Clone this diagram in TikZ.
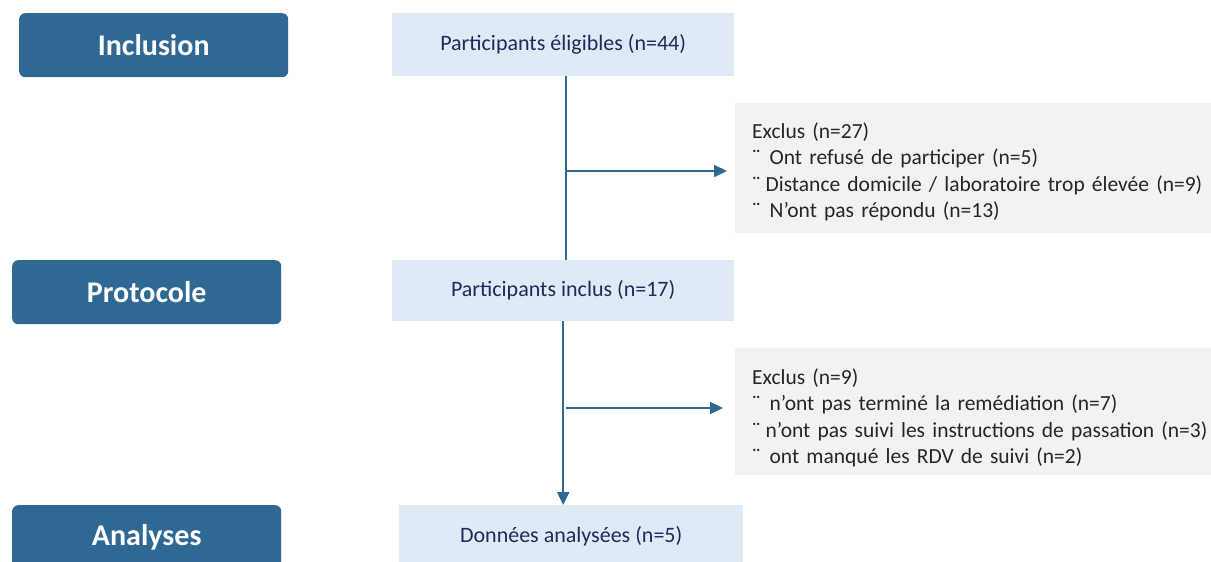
\documentclass[tikz,border=0pt]{standalone}
\usepackage{fontspec}
\setmainfont{Carlito}
\usetikzlibrary{arrows.meta}

\definecolor{phaseblue}{HTML}{2E6893}
\definecolor{stageblue}{HTML}{DEEAF6}
\definecolor{exclgray}{HTML}{F2F2F0}
\definecolor{navytext}{HTML}{1F2A5C}
\definecolor{graytext}{HTML}{262626}

\tikzset{
  phase/.style={fill=phaseblue, rounded corners=6pt, text=white, inner sep=0pt,
    minimum width=269pt, minimum height=64pt, font=\fontsize{30}{34}\selectfont\bfseries},
  stagebox/.style={fill=stageblue, text=navytext, inner sep=0pt,
    minimum width=342pt, minimum height=63pt, font=\fontsize{22}{26}\selectfont},
  exclbox/.style={fill=exclgray, text=graytext, inner xsep=17pt, inner ysep=0pt,
    text width=470pt, minimum height=130pt, align=left, font=\fontsize{21.5}{26.6}\selectfont},
  flow/.style={draw=phaseblue, line width=2pt, -{Triangle[length=13pt,width=12pt]}}
}

\begin{document}
\begin{tikzpicture}[x=1pt, y=-1pt, line join=round]
    \useasboundingbox (0,0) rectangle (1211,562);

    % colonne des phases
    \node[phase, anchor=north west] (inclusion) at (19,13) {Inclusion};
    \node[phase, anchor=north west] (protocole) at (12,260) {Protocole};
    \node[phase, anchor=north west] (analyses) at (12,505) {Analyses};

    % etapes du flux
    \node[stagebox, anchor=north west] (eligibles) at (392,13) {Participants éligibles (n=44)};
    \node[stagebox, anchor=north west, minimum height=61pt] (inclus) at (392,260) {Participants inclus (n=17)};
    \node[stagebox, anchor=north west, minimum width=344pt] (donnees) at (399,505) {Données analysées (n=5)};

    % exclusions (la boite depasse a droite, coupee par le cadre)
    \node[exclbox, anchor=north west] (exclus1) at (735,103)
      {\rule{0pt}{23pt}Exclus (n=27)\\
       ¨\hspace{9pt}Ont refusé de participer (n=5)\\
       ¨\hspace{5pt}Distance domicile / laboratoire trop élevée (n=9)\\
       ¨\hspace{9pt}N’ont pas répondu (n=13)};
    \node[exclbox, anchor=north west, minimum height=127pt] (exclus2) at (735,348)
      {\rule{0pt}{28pt}Exclus (n=9)\\
       ¨\hspace{9pt}n’ont pas terminé la remédiation (n=7)\\
       ¨\hspace{5pt}n’ont pas suivi les instructions de passation (n=3)\\
       ¨\hspace{9pt}ont manqué les RDV de suivi (n=2)};

    % embranchements
    \coordinate (branch1) at (566,171);
    \coordinate (branch2) at (566,408);

    % liaisons
    \draw[draw=phaseblue, line width=2pt] ([xshift=3pt]eligibles.south) -- ([xshift=3pt]inclus.north);
    \draw[flow, shorten >=8pt] (branch1) -- (branch1 -| exclus1.west);
    \draw[flow] (inclus.south) -- (inclus.south |- donnees.north);
    \draw[flow, shorten >=12pt] (branch2) -- (branch2 -| exclus2.west);
\end{tikzpicture}
\end{document}
